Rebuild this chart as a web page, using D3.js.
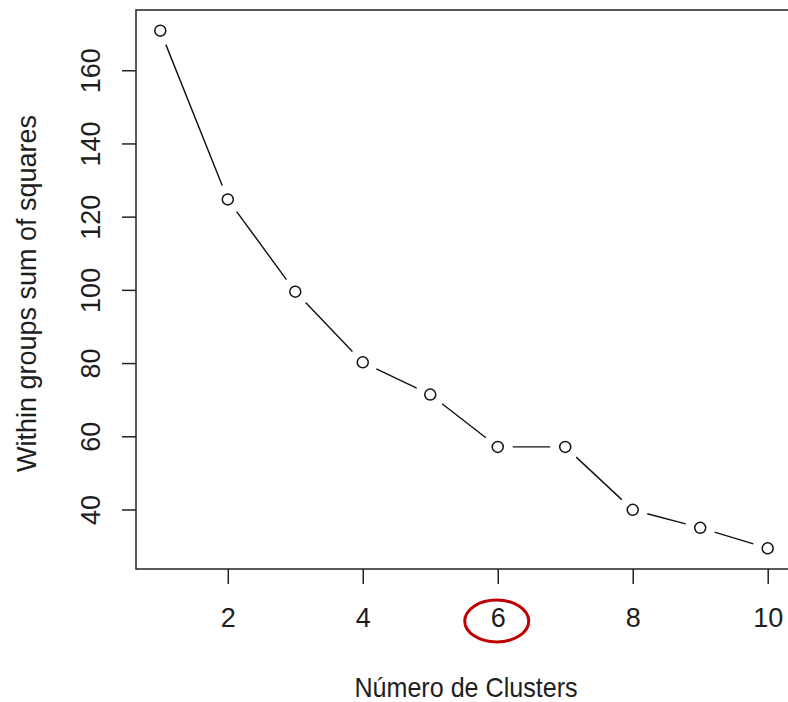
<!DOCTYPE html>
<html>
<head>
<meta charset="utf-8">
<script src="https://cdn.jsdelivr.net/npm/d3@7"></script>
<style>
  html, body { margin: 0; padding: 0; background: #fff; }
  svg { display: block; }
  text { font-family: "Liberation Sans", Arial, sans-serif; fill: #1e1e1e; }
</style>
</head>
<body>
<svg id="chart" width="788" height="702"></svg>
<script>
// Elbow plot: within-group sum of squares for k = 1..10 clusters
const clusters = [1, 2, 3, 4, 5, 6, 7, 8, 9, 10];
const wss = [170.8, 124.7, 99.5, 80.2, 71.4, 57.1, 57.1, 39.9, 35.0, 29.4];
const xTicks = [2, 4, 6, 8, 10];
const yTicks = [40, 60, 80, 100, 120, 140, 160];
const highlightK = 6;
const xTitle = "Número de Clusters";
const yTitle = "Within groups sum of squares";

const svg = d3.select("#chart");
const plot = { left: 136, right: 792, top: 10, bottom: 569 };
const fontSize = 27;

// R-style axis limits: data range extended by 4% on each side
function padded(ext) {
  const d = (ext[1] - ext[0]) * 0.04;
  return [ext[0] - d, ext[1] + d];
}

const x = d3.scaleLinear().domain(padded(d3.extent(clusters))).range([plot.left, plot.right]);
const y = d3.scaleLinear().domain(padded(d3.extent(wss))).range([plot.bottom, plot.top]);

// Plot frame
svg.append("rect")
  .attr("x", plot.left).attr("y", plot.top)
  .attr("width", plot.right - plot.left).attr("height", plot.bottom - plot.top)
  .attr("fill", "none").attr("stroke", "#222").attr("stroke-width", 1.5);

// Bottom axis
const gx = svg.append("g")
  .attr("transform", `translate(0,${plot.bottom})`)
  .call(d3.axisBottom(x).tickValues(xTicks).tickFormat(d3.format("d")).tickSize(15).tickPadding(24).tickSizeOuter(0));
gx.select(".domain").remove();
gx.selectAll(".tick line").attr("stroke", "#222").attr("stroke-width", 1.5);
gx.selectAll(".tick text")
  .attr("font-size", fontSize).attr("font-family", null).attr("fill", "#1e1e1e");

// Left axis with labels parallel to the axis
const gy = svg.append("g")
  .attr("transform", `translate(${plot.left},0)`)
  .call(d3.axisLeft(y).tickValues(yTicks).tickFormat(d3.format("d")).tickSize(14).tickSizeOuter(0));
gy.select(".domain").remove();
gy.selectAll(".tick line").attr("stroke", "#222").attr("stroke-width", 1.5);
gy.selectAll(".tick text")
  .attr("x", null).attr("dy", null)
  .attr("transform", "translate(-36,0) rotate(-90)")
  .attr("text-anchor", "middle")
  .attr("font-size", fontSize).attr("font-family", null).attr("fill", "#1e1e1e");

// Connecting segments, shortened so they stop short of each point
const gap = 15;
const segs = [];
for (let i = 0; i < clusters.length - 1; i++) {
  const x1 = x(clusters[i]), y1 = y(wss[i]);
  const x2 = x(clusters[i + 1]), y2 = y(wss[i + 1]);
  const len = Math.hypot(x2 - x1, y2 - y1);
  if (len > 2 * gap) {
    const ux = (x2 - x1) / len, uy = (y2 - y1) / len;
    segs.push([x1 + ux * gap, y1 + uy * gap, x2 - ux * gap, y2 - uy * gap]);
  }
}
svg.append("g").selectAll("line").data(segs).join("line")
  .attr("x1", d => d[0]).attr("y1", d => d[1])
  .attr("x2", d => d[2]).attr("y2", d => d[3])
  .attr("stroke", "#111").attr("stroke-width", 1.4);

// Open circle markers
svg.append("g").selectAll("circle").data(clusters).join("circle")
  .attr("cx", (d) => x(d)).attr("cy", (d, i) => y(wss[i]))
  .attr("r", 5.5)
  .attr("fill", "none").attr("stroke", "#111").attr("stroke-width", 1.5);

// Axis titles (x title slightly condensed)
svg.append("text")
  .attr("transform", `translate(${(plot.left + plot.right) / 2 + 2},697) scale(0.93,1)`)
  .attr("text-anchor", "middle").attr("font-size", fontSize)
  .text(xTitle);

svg.append("text")
  .attr("transform", `translate(36,${(plot.top + plot.bottom) / 2 + 4}) rotate(-90)`)
  .attr("text-anchor", "middle").attr("font-size", fontSize)
  .text(yTitle);

// Red ring around the chosen k on the x axis
svg.append("ellipse")
  .attr("cx", x(highlightK) - 1).attr("cy", 621)
  .attr("rx", 32).attr("ry", 21)
  .attr("fill", "none").attr("stroke", "#c00000").attr("stroke-width", 3);
</script>
</body>
</html>
